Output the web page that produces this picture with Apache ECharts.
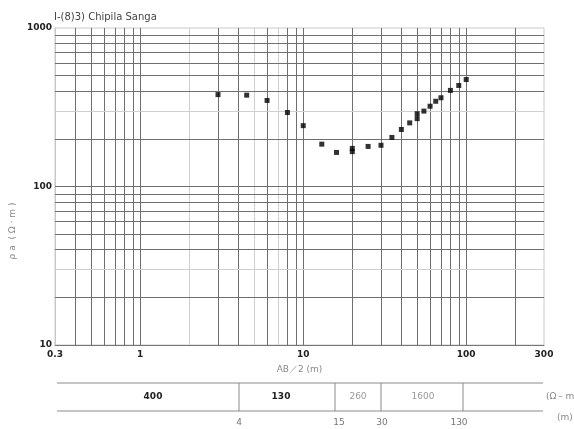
<!DOCTYPE html>
<html>
<head>
<meta charset="utf-8">
<script src="https://cdn.jsdelivr.net/npm/echarts@6/dist/echarts.min.js"></script>
<style>
html,body{margin:0;padding:0;background:#fff;}
#c{width:574px;height:429px;}
</style>
</head>
<body>
<div id="c"></div>
<script>
// ---- data ----
var titleText = "I-(8)3) Chipila Sanga";
var abHalf = [3, 4.5, 6, 8, 10, 13, 16, 20, 20, 25, 30, 35, 40, 45, 50, 50, 55, 60, 65, 70, 80, 90, 100];
var rhoA   = [380, 377, 349, 293, 242, 185, 164, 174, 166, 179, 182, 204, 229, 252, 268, 288, 299, 321, 345, 363, 404, 434, 473];
var xTickLabels = [0.3, 1, 10, 100, 300];
var yTickLabels = [10, 100, 1000];
var xGridValues = [0.4,0.5,0.6,0.7,0.8,0.9,1,2,3,4,5,6,7,8,9,10,20,30,40,50,60,70,80,90,100,200];
var xGridFaint = [2, 5, 7];
var yGridValues = [20,30,40,50,60,70,80,90,100,200,300,400,500,600,700,800,900];
var yGridFaint = [30, 300];
var layerRho = ["400", "130", "260", "1600"];
var layerDepth = ["4", "15", "30", "130"];

var chart = echarts.init(document.getElementById('c'), null, {renderer: 'canvas'});

var gridLines = [];
xGridValues.forEach(function (v) {
  var faint = xGridFaint.indexOf(v) >= 0;
  gridLines.push({xAxis: v, lineStyle: {color: faint ? '#cfcfcf' : '#6e6e6e', width: 1, type: 'solid'}});
});
yGridValues.forEach(function (v) {
  var faint = yGridFaint.indexOf(v) >= 0;
  gridLines.push({yAxis: v, lineStyle: {color: faint ? '#cfcfcf' : '#6e6e6e', width: 1, type: 'solid'}});
});

var points = abHalf.map(function (x, i) { return [x, rhoA[i]]; });

// table layout (pixels)
var tblL = 57, tblR = 543, tblT = 383, tblB = 411;
var divX = [239, 335, 381, 463];
var cellX = [153, 281, 358, 423];
var cellColor = ['#222', '#222', '#999', '#999'];
var depthX = [239, 339, 382, 459];

var graphics = [];
graphics.push({type: 'line', shape: {x1: tblL, y1: tblT, x2: tblR, y2: tblT}, style: {stroke: '#8a8a8a', lineWidth: 1}});
graphics.push({type: 'line', shape: {x1: tblL, y1: tblB, x2: tblR, y2: tblB}, style: {stroke: '#8a8a8a', lineWidth: 1}});
divX.forEach(function (x) {
  graphics.push({type: 'line', shape: {x1: x, y1: tblT, x2: x, y2: tblB}, style: {stroke: '#8a8a8a', lineWidth: 1}});
});
layerRho.forEach(function (t, i) {
  graphics.push({type: 'text', x: cellX[i], y: 397, style: {text: t, fill: cellColor[i], font: (i < 2 ? 'bold ' : '') + '9px "DejaVu Sans"', textAlign: 'center', textVerticalAlign: 'middle'}});
});
layerDepth.forEach(function (t, i) {
  graphics.push({type: 'text', x: depthX[i], y: 423, style: {text: t, fill: '#777', font: '9px "DejaVu Sans"', textAlign: 'center', textVerticalAlign: 'middle'}});
});
graphics.push({type: 'text', x: 546, y: 397, style: {text: '(Ω－m)', fill: '#888', font: '9px "DejaVu Sans"', textAlign: 'left', textVerticalAlign: 'middle'}});
graphics.push({type: 'text', x: 557, y: 418, style: {text: '(m)', fill: '#888', font: '9px "DejaVu Sans"', textAlign: 'left', textVerticalAlign: 'middle'}});
// y axis name (rotated)
graphics.push({type: 'text', x: 13, y: 231, rotation: Math.PI / 2, style: {text: 'ρ a  ( Ω · m )', fill: '#888', font: '9px "DejaVu Sans"', textAlign: 'center', textVerticalAlign: 'middle'}});

chart.setOption({
  animation: false,
  backgroundColor: '#fff',
  title: {
    text: titleText, left: 49, top: 7,
    textStyle: {fontSize: 10, fontWeight: 'normal', color: '#444', fontFamily: 'DejaVu Sans'}
  },
  grid: {left: 55, top: 28, width: 489, height: 317, show: true, borderColor: '#c8c8c8', borderWidth: 1, backgroundColor: 'transparent'},
  xAxis: {
    type: 'log', logBase: 10, min: 0.3, max: 300,
    name: 'AB／2 (m)', nameLocation: 'middle', nameGap: 20,
    nameTextStyle: {fontSize: 9, color: '#888', fontFamily: 'DejaVu Sans'},
    axisLine: {show: true, lineStyle: {color: '#777', width: 1}},
    axisTick: {show: false},
    splitLine: {show: false},
    axisLabel: {
      customValues: xTickLabels, margin: 5,
      fontSize: 9, fontWeight: 'bold', color: '#222', fontFamily: 'DejaVu Sans',
      showMinLabel: true, showMaxLabel: true,
      formatter: function (v) { return String(Math.round(v * 10) / 10); }
    }
  },
  yAxis: {
    type: 'log', logBase: 10, min: 10, max: 1000,
    axisLine: {show: true, lineStyle: {color: '#c8c8c8', width: 1}},
    axisTick: {show: false},
    splitLine: {show: false},
    axisLabel: {
      customValues: yTickLabels, margin: 3,
      fontSize: 9, fontWeight: 'bold', color: '#222', fontFamily: 'DejaVu Sans',
      showMinLabel: true, showMaxLabel: true,
      formatter: function (v) { return String(Math.round(v)); }
    }
  },
  series: [{
    type: 'scatter',
    data: points,
    symbol: 'rect',
    symbolSize: 5,
    itemStyle: {color: '#000'},
    z: 5,
    markLine: {
      silent: true, symbol: ['none', 'none'], z: 1,
      label: {show: false},
      emphasis: {disabled: true},
      data: gridLines
    }
  }],
  graphic: graphics
});
</script>
</body>
</html>
